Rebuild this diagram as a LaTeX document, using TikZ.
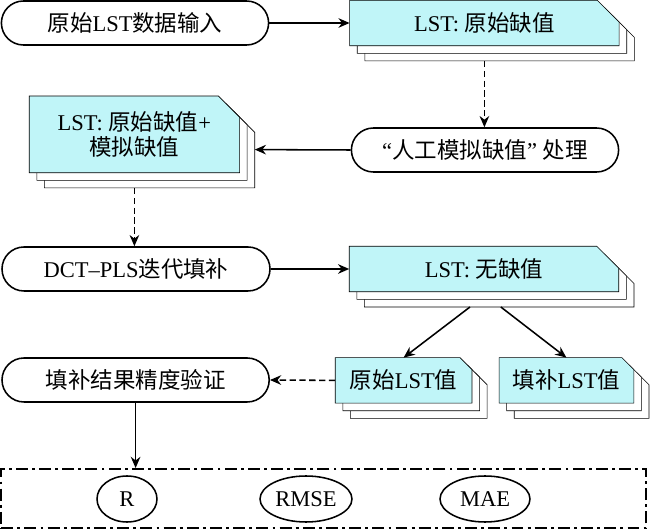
\documentclass[tikz,border=0pt]{standalone}
\usepackage{fontspec}
\setmainfont{Liberation Serif}
\newfontfamily\cjk{Noto Sans CJK SC}
\usetikzlibrary{arrows.meta, backgrounds, shapes.geometric}

\definecolor{lstcyan}{RGB}{192,245,248}
\newcommand\zh[1]{{\cjk #1}}
\newcommand\docstack[2]{%
	\foreach \k/\col in {2/white, 1/white, 0/lstcyan}{
		\filldraw[fill=\col] ([shift={(\k*0.19, -\k*0.19)}]#1.south west) -- ([shift={(\k*0.19, -\k*0.19)}]#1.north west) -- ([shift={(\k*0.19-#2, -\k*0.19)}]#1.north east) -- ([shift={(\k*0.19, -\k*0.19-#2)}]#1.north east) -- ([shift={(\k*0.19, -\k*0.19)}]#1.south east) -- cycle;
	}%
}

\begin{document}
\begin{tikzpicture}[
	font=\fontsize{16}{18}\selectfont,
	line width=1.1pt,
	stadium/.style={draw, rounded corners=0.55cm, minimum width=6.68cm, minimum height=1.1cm},
	doc/.style={minimum width=6.7cm, minimum height=1.1cm},
	arr/.style={-{Stealth[length=0.28cm, width=0.24cm]}},
	dsh/.style={dash pattern=on 4.5pt off 2.5pt},
	metric/.style={draw, ellipse, minimum height=1.15cm, inner sep=0pt}
]
	\useasboundingbox (0, 0) rectangle (16.25, 13.25);

	\node[stadium] (in) at (3.375, 12.675) {\zh{原始}LST\zh{数据输入}};
	\node[doc] (doc1) at (12.11, 12.675) {LST: \zh{原始缺值}};
	\node[stadium] (manual) at (12.125, 9.5) {“\zh{人工模拟缺值}” \zh{处理}};
	\node[doc, minimum width=5.22cm, minimum height=1.88cm, align=center] (doc2) at (3.36, 9.89) {LST: \zh{原始缺值}+\\\zh{模拟缺值}};
	\node[stadium, minimum width=6.7cm] (dct) at (3.4, 6.525) {DCT–PLS\zh{迭代填补}};
	\node[doc] (doc3) at (12.1, 6.525) {LST: \zh{无缺值}};
	\node[stadium] (verify) at (3.39, 3.75) {\zh{填补结果精度验证}};
	\node[doc, minimum width=3.38cm] (orig) at (10.09, 3.74) {\zh{原始}LST\zh{值}};
	\node[doc, minimum width=3.33cm] (filled) at (14.16, 3.74) {\zh{填补}LST\zh{值}};

	\node[draw, dash pattern=on 8.5pt off 3pt on 2pt off 3pt, minimum width=16.12cm, minimum height=1.48cm] (metrics) at (8.09, 0.79) {};
	\node[metric, minimum width=1.5cm] (r) at (3.175, 0.775) {R};
	\node[metric, minimum width=2.3cm] (rmse) at (7.65, 0.775) {RMSE};
	\node[metric, minimum width=2.25cm] (mae) at (12.125, 0.775) {MAE};

	\begin{scope}[on background layer]
		\docstack{doc1}{0.55}
		\docstack{doc2}{0.53}
		\docstack{doc3}{0.55}
		\docstack{orig}{0.3}
		\docstack{filled}{0.3}
	\end{scope}

	\coordinate (doc1b) at ([yshift=-0.38cm]doc1.south);
	\coordinate (doc2b) at ([yshift=-0.38cm]doc2.south);
	\coordinate (doc2e) at ([shift={(0.38, -0.38)}]doc2.east);
	\coordinate (doc3l) at ([shift={(-0.35, -0.38)}]doc3.south);
	\coordinate (doc3r) at ([shift={(0.42, -0.38)}]doc3.south);

	\draw[arr] (in.east) -- (doc1.west);
	\draw[arr, dsh] (doc1b) -- (doc1b |- manual.north);
	\draw[arr] (manual.west) -- (doc2e);
	\draw[arr, dsh] (doc2b) -- (doc2b |- dct.north);
	\draw[arr] (dct.east) -- (doc3.west);
	\draw[arr] (doc3l) -- (orig.north);
	\draw[arr] (doc3r) -- (filled.north);
	\draw[arr, dsh] (orig.west) -- (verify.east);
	\draw[arr] (verify.south) -- (verify.south |- metrics.north);
\end{tikzpicture}
\end{document}
